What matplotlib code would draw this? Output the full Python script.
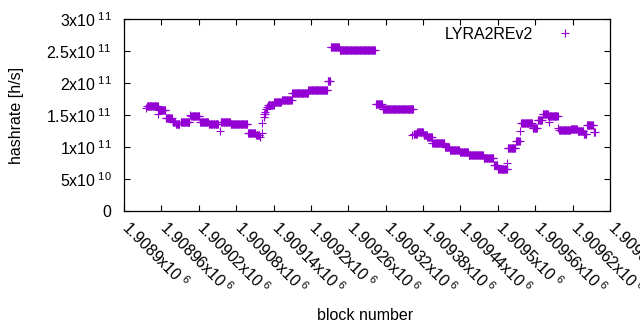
import numpy as np
import matplotlib
matplotlib.use("Agg")
import matplotlib.pyplot as plt
import matplotlib.transforms as mtrans

plt.rcParams['font.family'] = ['Liberation Sans', 'DejaVu Sans']
plt.rcParams['mathtext.fontset'] = 'custom'
plt.rcParams['mathtext.rm'] = 'Liberation Sans'
plt.rcParams['mathtext.it'] = 'Liberation Sans:italic'

# runs of constant hashrate: first block, last block, hashrate [h/s]
run_start = [1908935, 1908937, 1908955, 1908956, 1908967, 1908978, 1908983, 1908991,
             1909006, 1909008, 1909022, 1909036, 1909054, 1909055, 1909071, 1909099,
             1909112, 1909118, 1909121, 1909122, 1909124, 1909125, 1909127, 1909128,
             1909130, 1909131, 1909141, 1909153, 1909170, 1909196, 1909227, 1909232,
             1909246, 1909304, 1909315, 1909363, 1909365, 1909371, 1909381, 1909387,
             1909395, 1909415, 1909423, 1909439, 1909453, 1909477, 1909494, 1909500,
             1909514, 1909516, 1909529, 1909536, 1909537, 1909556, 1909564, 1909572,
             1909581, 1909582, 1909597, 1909598, 1909617, 1909628, 1909638, 1909643,
             1909654]
run_end = [1908935, 1908954, 1908955, 1908966, 1908977, 1908982, 1908989, 1909005,
           1909006, 1909021, 1909035, 1909051, 1909054, 1909070, 1909098, 1909111,
           1909117, 1909118, 1909121, 1909122, 1909124, 1909126, 1909127, 1909129,
           1909130, 1909140, 1909152, 1909169, 1909195, 1909226, 1909231, 1909245,
           1909303, 1909314, 1909364, 1909363, 1909370, 1909380, 1909386, 1909394,
           1909414, 1909422, 1909438, 1909452, 1909476, 1909493, 1909499, 1909515,
           1909514, 1909528, 1909535, 1909536, 1909555, 1909563, 1909571, 1909580,
           1909596, 1909582, 1909597, 1909616, 1909627, 1909637, 1909642, 1909653,
           1909656]
run_value = [1.61e11, 1.64e11, 1.52e11, 1.58e11, 1.46e11, 1.39e11, 1.36e11, 1.39e11,
             1.50e11, 1.48e11, 1.39e11, 1.36e11, 1.25e11, 1.39e11, 1.36e11, 1.22e11,
             1.19e11, 1.16e11, 1.22e11, 1.38e11, 1.47e11, 1.51e11, 1.55e11, 1.59e11,
             1.62e11, 1.65e11, 1.70e11, 1.74e11, 1.84e11, 1.885e11, 2.03e11, 2.56e11,
             2.51e11, 1.67e11, 1.60e11, 1.19e11, 1.20e11, 1.23e11, 1.19e11, 1.16e11,
             1.07e11, 1.00e11, 9.55e10, 9.15e10, 8.75e10, 8.35e10, 7.2e10, 6.5e10,
             7.5e10, 9.8e10, 1.09e11, 1.25e11, 1.37e11, 1.29e11, 1.42e11, 1.52e11,
             1.48e11, 1.39e11, 1.30e11, 1.27e11, 1.285e11, 1.25e11, 1.20e11, 1.34e11,
             1.23e11]

x_ticks = [1908900, 1908960, 1909020, 1909080, 1909140, 1909200, 1909260,
           1909320, 1909380, 1909440, 1909500, 1909560, 1909620, 1909680]
x_tick_labels = [r"1.9089x10$^{\ 6}$", r"1.90896x10$^{\ 6}$", r"1.90902x10$^{\ 6}$",
                 r"1.90908x10$^{\ 6}$", r"1.90914x10$^{\ 6}$", r"1.9092x10$^{\ 6}$",
                 r"1.90926x10$^{\ 6}$", r"1.90932x10$^{\ 6}$", r"1.90938x10$^{\ 6}$",
                 r"1.90944x10$^{\ 6}$", r"1.9095x10$^{\ 6}$", r"1.90956x10$^{\ 6}$",
                 r"1.90962x10$^{\ 6}$", r"1.90968x10$^{\ 6}$"]
y_ticks = [0, 5e10, 1e11, 1.5e11, 2e11, 2.5e11, 3e11]
y_tick_labels = ["0", r"5x10$^{\ 10}$", r"1x10$^{\ 11}$", r"1.5x10$^{\ 11}$",
                 r"2x10$^{\ 11}$", r"2.5x10$^{\ 11}$", r"3x10$^{\ 11}$"]

blocks = []
rates = []
for s, e, v in zip(run_start, run_end, run_value):
    for b in range(s, e + 1):
        blocks.append(b)
        rates.append(v)

fig = plt.figure(figsize=(6.4, 3.3), dpi=100)
ax = fig.add_axes([124 / 640, 1 - 211 / 330, 486 / 640, 192 / 330])
ax.plot(blocks, rates, '+', color='#9400d3', ms=5.5, mew=0.8, ls='none',
        label='LYRA2REv2')

ax.set_xlim(1908900, 1909680)
ax.set_ylim(0, 3e11)
ax.set_xticks(x_ticks)
ax.set_xticklabels(x_tick_labels, rotation=-45, ha='left', va='top',
                   rotation_mode='anchor')
ax.set_yticks(y_ticks)
ax.set_yticklabels(y_tick_labels)
ax.tick_params(direction='in', length=4, width=0.8, top=True, right=True,
               labelsize=11.5)
ax.tick_params(axis='x', pad=6)
ax.tick_params(axis='y', pad=9)
for sp in ax.spines.values():
    sp.set_linewidth(0.9)

# nudge the rotated labels right, like gnuplot puts them
shift = mtrans.ScaledTranslation(8 / 100, 2 / 100, fig.dpi_scale_trans)
for lab in ax.get_xticklabels():
    lab.set_transform(lab.get_transform() + shift)

ax.legend(loc='upper right', markerfirst=False, frameon=False, fontsize=11.5,
          handlelength=2.2, handletextpad=0.9, borderaxespad=0.3,
          bbox_to_anchor=(0.967, 1.018))

fig.text(365 / 640, 1 - 315 / 330, "block number", ha='center', va='center',
         fontsize=11.5)
fig.text(17 / 640, 1 - 115 / 330, "hashrate [h/s]", ha='center', va='center',
         rotation=90, fontsize=11.5)

fig.savefig("out.png", dpi=100)
